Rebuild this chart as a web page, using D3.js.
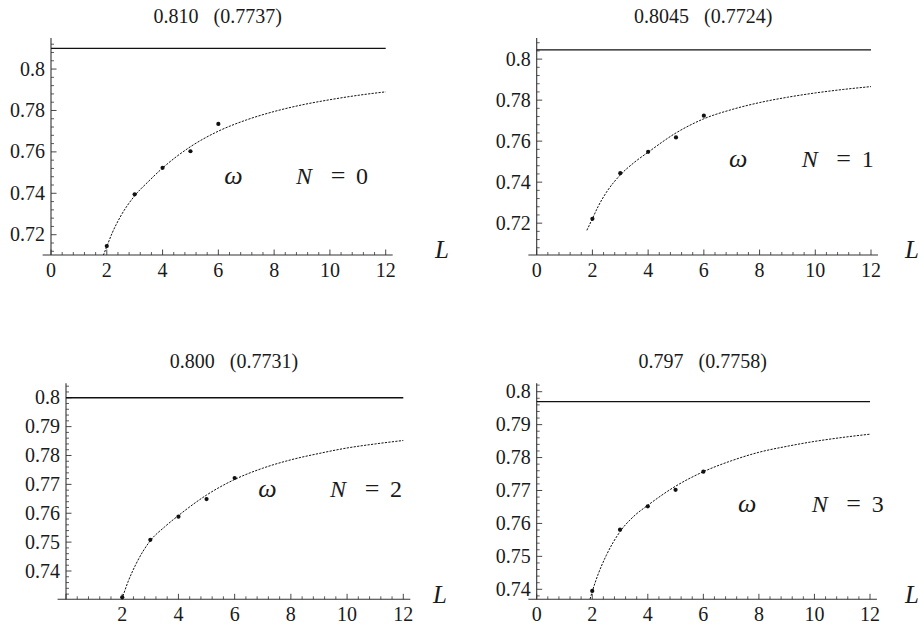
<!DOCTYPE html>
<html><head><meta charset="utf-8"><script src="https://cdn.jsdelivr.net/npm/d3@7"></script></head>
<body style="margin:0">
<svg id="s" width="920" height="627" style="display:block;background:#fff"></svg>
<script>
// ---------------- data ----------------
const panelTitleMain = ["0.810", "0.8045", "0.800", "0.797"];
const panelTitleParen = ["(0.7737)", "(0.7724)", "(0.7731)", "(0.7758)"];
const panelN = ["0", "1", "2", "3"];
const limitValues = [0.810, 0.8045, 0.800, 0.797];

const sizesL = [2, 3, 4, 5, 6];
const omegaN0 = [0.7145, 0.7395, 0.7523, 0.7603, 0.7735];
const omegaN1 = [0.7221, 0.7444, 0.7548, 0.7618, 0.7724];
const omegaN2 = [0.7309, 0.7508, 0.7588, 0.7649, 0.7722];
const omegaN3 = [0.7395, 0.7581, 0.7652, 0.7702, 0.7757];

const fitL0 = [1.875, 2, 2.2, 2.5, 3, 3.5, 4, 5, 6, 7, 8, 9, 10, 11, 12];
const fitW0 = [0.7100, 0.7143, 0.7210, 0.7290, 0.7388, 0.7458, 0.7522, 0.7625, 0.7700, 0.7754, 0.7795, 0.7827, 0.7852, 0.7873, 0.7890];
const fitL1 = [1.8, 2, 2.2, 2.5, 3, 3.5, 4, 5, 6, 7, 8, 9, 10, 11, 12];
const fitW1 = [0.7165, 0.7222, 0.7280, 0.7350, 0.7435, 0.7496, 0.7546, 0.7640, 0.7709, 0.7754, 0.7788, 0.7814, 0.7835, 0.7852, 0.7866];
const fitL2 = [1.98, 2, 2.2, 2.5, 3, 3.5, 4, 5, 6, 7, 8, 9, 10, 11, 12];
const fitW2 = [0.7302, 0.7307, 0.7361, 0.7426, 0.7505, 0.7552, 0.7592, 0.7663, 0.7717, 0.7756, 0.7785, 0.7807, 0.7826, 0.7840, 0.7852];
const fitL3 = [1.92, 2, 2.2, 2.5, 3, 3.5, 4, 5, 6, 7, 8, 9, 10, 11, 12];
const fitW3 = [0.7370, 0.7393, 0.7443, 0.7502, 0.7575, 0.7622, 0.7655, 0.7713, 0.7757, 0.7790, 0.7816, 0.7834, 0.7849, 0.7861, 0.7871];

const xTickValues = [0, 2, 4, 6, 8, 10, 12];
const xTickLabels0 = ["0", "2", "4", "6", "8", "10", "12"];
const xTickLabels2 = ["", "2", "4", "6", "8", "10", "12"];
const yTicksA = [0.72, 0.74, 0.76, 0.78, 0.80];
const yTickLabelsA = ["0.72", "0.74", "0.76", "0.78", "0.8"];
const yTicksB = [0.74, 0.75, 0.76, 0.77, 0.78, 0.79, 0.80];
const yTickLabelsB = ["0.74", "0.75", "0.76", "0.77", "0.78", "0.79", "0.8"];

const xDomain = [0, 12];
const xAxisExtent = [-0.3, 12.25];
const yDomains = [[0.7102, 0.8150], [0.70447, 0.81030], [0.7302, 0.8050], [0.73696, 0.80255]];

// ---------------- layout (pixels) ----------------
const layout = [
  { x0: 51,    x1: 385.7, yb: 255,   yt: 38,    titleY: 23,  omegaX: 233.5, labelY: 183.5, nX: 296,   LX: 435, LY: 258 },
  { x0: 536.7, x1: 871,   yb: 255,   yt: 38,    titleY: 23,  omegaX: 738.3, labelY: 166.7, nX: 801.7, LX: 905, LY: 258 },
  { x0: 66,    x1: 403.3, yb: 599.3, yt: 383.3, titleY: 368, omegaX: 267.5, labelY: 496.7, nX: 330,   LX: 433, LY: 603 },
  { x0: 536.7, x1: 870,   yb: 599.3, yt: 383.3, titleY: 368, omegaX: 747.3, labelY: 511.7, nX: 811.7, LX: 905, LY: 603 }
];

const panels = [
  { t1: panelTitleMain[0], t2: panelTitleParen[0], n: panelN[0], limit: limitValues[0], pts: omegaN0, fL: fitL0, fW: fitW0, yT: yTicksA, yTL: yTickLabelsA, xTL: xTickLabels0, yMinor: 0.004 },
  { t1: panelTitleMain[1], t2: panelTitleParen[1], n: panelN[1], limit: limitValues[1], pts: omegaN1, fL: fitL1, fW: fitW1, yT: yTicksA, yTL: yTickLabelsA, xTL: xTickLabels0, yMinor: 0.004 },
  { t1: panelTitleMain[2], t2: panelTitleParen[2], n: panelN[2], limit: limitValues[2], pts: omegaN2, fL: fitL2, fW: fitW2, yT: yTicksB, yTL: yTickLabelsB, xTL: xTickLabels2, yMinor: 0.002 },
  { t1: panelTitleMain[3], t2: panelTitleParen[3], n: panelN[3], limit: limitValues[3], pts: omegaN3, fL: fitL3, fW: fitW3, yT: yTicksB, yTL: yTickLabelsB, xTL: xTickLabels0, yMinor: 0.002 }
];

const svg = d3.select("#s");
const axisColor = "#333";
const textColor = "#1a1a1a";

function txt(x, y, size, content) {
  return svg.append("text").attr("x", x).attr("y", y).attr("font-size", size)
    .style("font-family", '"Liberation Serif"').attr("fill", textColor).text(content);
}

panels.forEach((p, i) => {
  const lay = layout[i];
  const x = d3.scaleLinear().domain(xDomain).range([lay.x0, lay.x1]);
  const y = d3.scaleLinear().domain(yDomains[i]).range([lay.yb, lay.yt]);

  const clipId = "clip" + i;
  svg.append("clipPath").attr("id", clipId).append("rect")
    .attr("x", x(xAxisExtent[0])).attr("y", lay.yt)
    .attr("width", x(xAxisExtent[1]) - x(xAxisExtent[0])).attr("height", lay.yb - lay.yt);

  svg.append("line")
    .attr("x1", x(xAxisExtent[0])).attr("x2", x(xAxisExtent[1]))
    .attr("y1", lay.yb).attr("y2", lay.yb)
    .attr("stroke", axisColor).attr("stroke-width", 1.1);
  svg.append("line")
    .attr("x1", x(0)).attr("x2", x(0))
    .attr("y1", lay.yb).attr("y2", lay.yt)
    .attr("stroke", axisColor).attr("stroke-width", 1.1);

  const xMinor = d3.range(0, 12.0001, 0.4).filter(v => Math.abs(v / 2 - Math.round(v / 2)) > 1e-6);
  xMinor.forEach(v => svg.append("line")
    .attr("x1", x(v)).attr("x2", x(v)).attr("y1", lay.yb).attr("y2", lay.yb - 3)
    .attr("stroke", axisColor).attr("stroke-width", 0.8));
  xTickValues.forEach((v, k) => {
    svg.append("line")
      .attr("x1", x(v)).attr("x2", x(v)).attr("y1", lay.yb).attr("y2", lay.yb - 5.5)
      .attr("stroke", axisColor).attr("stroke-width", 0.9);
    if (p.xTL[k]) txt(x(v), lay.yb + 22, 20, p.xTL[k]).attr("text-anchor", "middle");
  });

  const [ylo, yhi] = yDomains[i];
  const yMinorVals = d3.range(Math.ceil(ylo / p.yMinor) * p.yMinor, yhi, p.yMinor)
    .filter(v => !p.yT.some(t => Math.abs(t - v) < 1e-7));
  yMinorVals.forEach(v => svg.append("line")
    .attr("x1", x(0)).attr("x2", x(0) + 3).attr("y1", y(v)).attr("y2", y(v))
    .attr("stroke", axisColor).attr("stroke-width", 0.8));
  p.yT.forEach((v, k) => {
    svg.append("line")
      .attr("x1", x(0)).attr("x2", x(0) + 5.5).attr("y1", y(v)).attr("y2", y(v))
      .attr("stroke", axisColor).attr("stroke-width", 0.9);
    txt(x(0) - 6, y(v) + 6.5, 20, p.yTL[k]).attr("text-anchor", "end");
  });

  svg.append("line")
    .attr("x1", x(0)).attr("x2", x(12))
    .attr("y1", y(p.limit)).attr("y2", y(p.limit))
    .attr("stroke", "#111").attr("stroke-width", 1.4);

  const fit = p.fL.map((L, k) => [L, p.fW[k]]);
  svg.append("path")
    .attr("clip-path", `url(#${clipId})`)
    .attr("d", d3.line().x(d => x(d[0])).y(d => y(d[1])).curve(d3.curveMonotoneX)(fit))
    .attr("fill", "none").attr("stroke", "#111").attr("stroke-width", 1)
    .attr("stroke-dasharray", "2.2,1.3");

  sizesL.forEach((L, k) => svg.append("circle")
    .attr("cx", x(L)).attr("cy", y(p.pts[k])).attr("r", 2.1).attr("fill", "#111"));

  // title
  const t = txt((x(xAxisExtent[0]) + x(xAxisExtent[1])) / 2, lay.titleY, 20, null)
    .attr("text-anchor", "middle");
  t.append("tspan").text(p.t1 + " ");
  t.append("tspan").attr("dx", 10).text(p.t2);

  txt(lay.omegaX, lay.labelY, 26, "ω").attr("text-anchor", "middle").attr("font-style", "italic");
  txt(lay.nX, lay.labelY, 24, "N").attr("font-style", "italic");
  txt(lay.nX + 42, lay.labelY, 26, "=").attr("text-anchor", "middle");
  txt(lay.nX + 66, lay.labelY, 24, p.n).attr("text-anchor", "middle");
  txt(lay.LX, lay.LY, 25, "L").attr("font-style", "italic");
});
</script>
</body>
</html>
